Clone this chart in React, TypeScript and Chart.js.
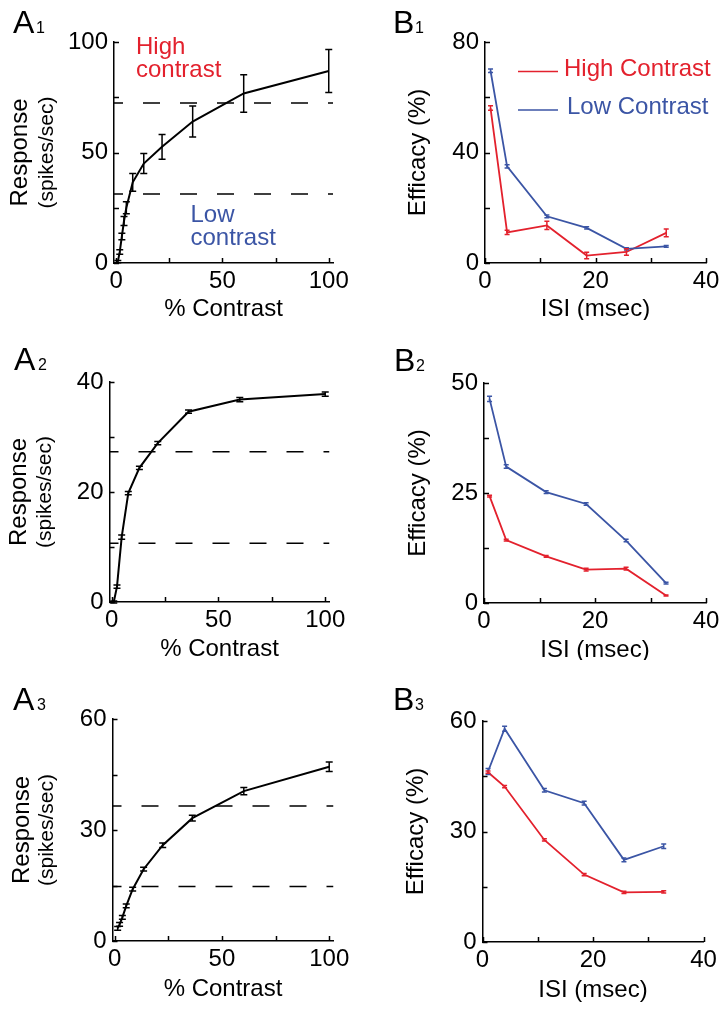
import React, { useEffect, useRef } from 'react';
import { Chart, registerables } from 'chart.js';

Chart.register(...registerables);

const FONT = '"Liberation Sans", Arial, Helvetica, sans-serif';
const RED = '#e3212d';
const BLUE = '#3b55a5';

// ---------- Panel A data (% contrast vs response) ----------
const A_X_TICKS = [0, 25, 50, 75, 100];
const A_X_LABELS = ['0', '', '50', '', '100'];

const A1_CONTRAST = [0.8, 1.7, 2.7, 3.7, 4.8, 7.8, 13, 21.6, 36, 60, 100];
const A1_RESPONSE = [0.6, 5, 12, 19, 25, 36.5, 45, 52.6, 64, 76.7, 86.9];
const A1_ERROR = [0.5, 1, 1.5, 2, 2.7, 4, 4.5, 5.6, 7, 8.5, 9.7];
const A1_LEVELS = [72.4, 31.2];
const A1_Y_TICKS = [0, 25, 50, 75, 100];
const A1_Y_LABELS = ['0', '', '50', '', '100'];

const A2_CONTRAST = [1, 2.5, 4.7, 7.8, 13, 21.6, 36, 60, 100];
const A2_RESPONSE = [0, 2.8, 11.8, 19.8, 24.4, 28.9, 34.6, 36.8, 37.8];
const A2_ERROR = [0.2, 0.3, 0.4, 0.3, 0.3, 0.3, 0.3, 0.4, 0.4];
const A2_LEVELS = [27.3, 10.7];
const A2_Y_TICKS = [0, 10, 20, 30, 40];
const A2_Y_LABELS = ['0', '', '20', '', '40'];

const A3_CONTRAST = [1.4, 2.3, 3.6, 5.4, 8.4, 13.5, 22.4, 36.2, 60.2, 100];
const A3_RESPONSE = [3.4, 4.5, 6.4, 9.5, 14, 19.4, 25.9, 33.2, 40.5, 47.1];
const A3_ERROR = [0.5, 0.5, 0.5, 0.5, 0.5, 0.5, 0.6, 0.8, 1, 1.3];
const A3_LEVELS = [36.5, 14.7];
const A3_Y_TICKS = [0, 15, 30, 45, 60];
const A3_Y_LABELS = ['0', '', '30', '', '60'];

// ---------- Panel B data (ISI vs efficacy) ----------
const ISI = [1, 4, 11.2, 18.4, 25.6, 32.8];
const B_X_TICKS = [0, 10, 20, 30, 40];
const B_X_LABELS = ['0', '', '20', '', '40'];

const B1_HIGH = [56.1, 11.1, 13.6, 2.7, 4.0, 10.9];
const B1_HIGH_ERR = [0.8, 0.8, 1.5, 1.2, 1.2, 1.4];
const B1_LOW = [69.6, 35, 16.9, 12.7, 5.1, 6.0];
const B1_LOW_ERR = [0.6, 0.6, 0.5, 0.4, 0.4, 0.3];
const B1_Y_TICKS = [0, 20, 40, 60, 80];
const B1_Y_LABELS = ['0', '', '40', '', '80'];

const B2_HIGH = [24.3, 14.3, 10.6, 7.6, 7.8, 1.7];
const B2_HIGH_ERR = [0.2, 0.2, 0.2, 0.3, 0.3, 0.1];
const B2_LOW = [46.4, 31.0, 25.2, 22.5, 14.2, 4.5];
const B2_LOW_ERR = [0.6, 0.4, 0.3, 0.3, 0.3, 0.2];
const B2_Y_TICKS = [0, 12.5, 25, 37.5, 50];
const B2_Y_LABELS = ['0', '', '25', '', '50'];

const B3_HIGH = [46.1, 42.2, 27.7, 18.3, 13.5, 13.6];
const B3_HIGH_ERR = [0.3, 0.3, 0.3, 0.3, 0.3, 0.3];
const B3_LOW = [46.3, 57.9, 41.2, 37.7, 22.3, 26.0];
const B3_LOW_ERR = [0.8, 0.7, 0.5, 0.5, 0.5, 0.6];
const B3_Y_TICKS = [0, 15, 30, 45, 60];
const B3_Y_LABELS = ['0', '', '30', '', '60'];

const LEGEND_LABELS = ['High Contrast', 'Low Contrast'];

// ---------- helpers ----------
const pts = (xs: number[], ys: number[]) => xs.map((x, i) => ({ x, y: ys[i] }));

const errorBarPlugin = {
  id: 'errorBars',
  afterDatasetsDraw(chart: any) {
    const ctx = chart.ctx;
    const yScale = chart.scales.y;
    chart.data.datasets.forEach((ds: any, di: number) => {
      if (!ds.errors) return;
      const meta = chart.getDatasetMeta(di);
      ctx.save();
      ctx.strokeStyle = ds.borderColor;
      ctx.lineWidth = 1.5;
      meta.data.forEach((el: any, i: number) => {
        const v = ds.data[i].y;
        const e = ds.errors[i];
        const x = el.x;
        const y1 = yScale.getPixelForValue(v + e);
        const y2 = yScale.getPixelForValue(v - e);
        const cw = ds.capWidth || 3;
        ctx.beginPath();
        ctx.moveTo(x, y1);
        ctx.lineTo(x, y2);
        ctx.moveTo(x - cw, y1);
        ctx.lineTo(x + cw, y1);
        ctx.moveTo(x - cw, y2);
        ctx.lineTo(x + cw, y2);
        ctx.stroke();
      });
      ctx.restore();
    });
  },
};

// inward tick marks, drawn from the scales' own ticks
const innerTickPlugin = {
  id: 'innerTicks',
  afterDraw(chart: any) {
    const ctx = chart.ctx;
    const area = chart.chartArea;
    const len = 5;
    ctx.save();
    ctx.strokeStyle = '#000';
    ctx.lineWidth = 1.5;
    ctx.beginPath();
    const xs = chart.scales.x;
    xs.ticks.forEach((t: any) => {
      const px = Math.round(xs.getPixelForValue(t.value)) + 0.5;
      ctx.moveTo(px, area.bottom);
      ctx.lineTo(px, area.bottom - len);
    });
    const ys = chart.scales.y;
    ys.ticks.forEach((t: any) => {
      const py = Math.round(ys.getPixelForValue(t.value)) + 0.5;
      ctx.moveTo(area.left, py);
      ctx.lineTo(area.left + len, py);
    });
    ctx.stroke();
    ctx.restore();
  },
};

const decoPlugin = {
  id: 'deco',
  afterDraw(chart: any, _args: any, opts: any) {
    const ctx = chart.ctx;
    const area = chart.chartArea;
    const cy = (area.top + area.bottom) / 2;
    const cx = (area.left + area.right) / 2;
    ctx.save();
    ctx.fillStyle = '#000';
    ctx.textBaseline = 'alphabetic';
    // panel label
    ctx.textAlign = 'left';
    ctx.font = `32px ${FONT}`;
    ctx.fillText(opts.letter, opts.labelX, opts.labelY);
    ctx.font = `16px ${FONT}`;
    ctx.fillText(opts.sub, opts.subX, opts.labelY);
    // y title (rotated)
    ctx.textAlign = 'center';
    (opts.yTitle || []).forEach((t: any) => {
      ctx.save();
      ctx.translate(t.x, cy);
      ctx.rotate(-Math.PI / 2);
      ctx.font = `${t.size}px ${FONT}`;
      ctx.fillText(t.text, 0, 0);
      ctx.restore();
    });
    // x title
    ctx.font = `24px ${FONT}`;
    ctx.fillText(opts.xTitle, cx, area.bottom + opts.xTitleDy);
    // annotations
    ctx.textAlign = 'left';
    (opts.notes || []).forEach((n: any) => {
      ctx.fillStyle = n.color;
      ctx.font = `24px ${FONT}`;
      ctx.fillText(n.text, n.x, n.y);
    });
    // legend
    (opts.legend || []).forEach((l: any) => {
      ctx.strokeStyle = l.color;
      ctx.lineWidth = 1.5;
      ctx.beginPath();
      ctx.moveTo(l.x1, l.ly);
      ctx.lineTo(l.x2, l.ly);
      ctx.stroke();
      ctx.fillStyle = l.color;
      ctx.font = `24px ${FONT}`;
      ctx.fillText(l.text, l.tx, l.ty);
    });
    ctx.restore();
  },
};

type Area = { l: number; r: number; t: number; b: number };

function makeAxis(
  axis: 'x' | 'y',
  min: number,
  max: number,
  tickVals: number[],
  tickLabels: string[],
  fit: (s: any) => void
) {
  return {
    type: 'linear',
    position: axis === 'x' ? 'bottom' : 'left',
    min,
    max,
    afterBuildTicks: (s: any) => {
      s.ticks = tickVals.map((v) => ({ value: v }));
    },
    afterFit: fit,
    ticks: {
      callback: (_v: any, i: number) => tickLabels[i],
      autoSkip: false,
      maxRotation: 0,
      minRotation: 0,
      padding: axis === 'x' ? 4 : 6,
      color: '#000',
      font: { size: 24, family: FONT },
    },
    grid: {
      display: true,
      drawOnChartArea: false,
      drawTicks: false,
    },
    border: { display: true, color: '#000', width: 1.5 },
  };
}

function makeConfig(p: any) {
  const W = p.w;
  const H = p.h;
  const a: Area = p.area;
  return {
    type: 'line',
    data: { datasets: p.datasets },
    options: {
      responsive: false,
      animation: false,
      devicePixelRatio: 1,
      layout: { padding: { top: a.t, right: W - a.r, left: 0, bottom: 0 } },
      elements: { point: { radius: 0 }, line: { tension: 0 } },
      plugins: {
        legend: { display: false },
        tooltip: { enabled: false },
        deco: p.deco,
      },
      scales: {
        x: makeAxis('x', p.xMin, p.xMax, p.xTicks, p.xLabels, (s: any) => {
          s.height = H - a.b;
        }),
        y: makeAxis('y', p.yMin, p.yMax, p.yTicks, p.yLabels, (s: any) => {
          s.width = a.l;
        }),
      },
    },
    plugins: [errorBarPlugin, innerTickPlugin, decoPlugin],
  };
}

function levelSets(levels: number[], xMin: number, xMax: number) {
  return levels.map((lv) => ({
    data: [
      { x: xMin, y: lv },
      { x: xMax, y: lv },
    ],
    borderColor: '#000',
    borderWidth: 1.5,
    borderDash: [17, 20],
    borderDashOffset: 8,
    pointRadius: 0,
  }));
}

function aPanel(
  contrast: number[],
  resp: number[],
  err: number[],
  levels: number[],
  yTicks: number[],
  yLabels: string[],
  h: number,
  area: Area,
  deco: any
) {
  return {
    w: 364,
    h,
    area,
    xMin: -1,
    xMax: 102,
    xTicks: A_X_TICKS,
    xLabels: A_X_LABELS,
    yMin: yTicks[0],
    yMax: yTicks[yTicks.length - 1],
    yTicks,
    yLabels,
    datasets: [
      ...levelSets(levels, -1, 102),
      {
        data: pts(contrast, resp),
        borderColor: '#000',
        borderWidth: 2,
        pointRadius: 0,
        errors: err,
        capWidth: 3.5,
      },
    ],
    deco,
  };
}

function bPanel(
  high: number[],
  highErr: number[],
  low: number[],
  lowErr: number[],
  yTicks: number[],
  yLabels: string[],
  h: number,
  area: Area,
  deco: any
) {
  return {
    w: 364,
    h,
    area,
    xMin: 0,
    xMax: 40,
    xTicks: B_X_TICKS,
    xLabels: B_X_LABELS,
    yMin: yTicks[0],
    yMax: yTicks[yTicks.length - 1],
    yTicks,
    yLabels,
    datasets: [
      {
        data: pts(ISI, low),
        borderColor: BLUE,
        borderWidth: 1.8,
        pointRadius: 0,
        errors: lowErr,
        capWidth: 2.5,
      },
      {
        data: pts(ISI, high),
        borderColor: RED,
        borderWidth: 1.8,
        pointRadius: 0,
        errors: highErr,
        capWidth: 2.5,
      },
    ],
    deco,
  };
}

const aTitles = (x1: number, x2: number) => [
  { text: 'Response', size: 24, x: x1 },
  { text: '(spikes/sec)', size: 21, x: x2 },
];
const bTitles = (x: number) => [{ text: 'Efficacy (%)', size: 24, x }];

const PANELS = [
  {
    left: 0,
    top: 0,
    cfg: aPanel(A1_CONTRAST, A1_RESPONSE, A1_ERROR, A1_LEVELS, A1_Y_TICKS, A1_Y_LABELS, 320,
      { l: 114, r: 333, t: 42, b: 263 },
      {
        letter: 'A', sub: '1', labelX: 13, subX: 36, labelY: 33,
        yTitle: aTitles(27, 52.5), xTitle: '% Contrast', xTitleDy: 53,
        notes: [
          { text: 'High', x: 136, y: 53.5, color: RED },
          { text: 'contrast', x: 136, y: 77, color: RED },
          { text: 'Low', x: 190.5, y: 222, color: BLUE },
          { text: 'contrast', x: 190.5, y: 245, color: BLUE },
        ],
      }),
  },
  {
    left: 364,
    top: 0,
    cfg: bPanel(B1_HIGH, B1_HIGH_ERR, B1_LOW, B1_LOW_ERR, B1_Y_TICKS, B1_Y_LABELS, 320,
      { l: 121, r: 342, t: 42, b: 263 },
      {
        letter: 'B', sub: '1', labelX: 29, subX: 51, labelY: 33,
        yTitle: bTitles(61), xTitle: 'ISI (msec)', xTitleDy: 53,
        legend: [
          { text: LEGEND_LABELS[0], color: RED, x1: 154, x2: 194, ly: 71.5, tx: 200, ty: 76 },
          { text: LEGEND_LABELS[1], color: BLUE, x1: 154, x2: 194, ly: 110, tx: 203, ty: 114 },
        ],
      }),
  },
  {
    left: 0,
    top: 320,
    cfg: aPanel(A2_CONTRAST, A2_RESPONSE, A2_ERROR, A2_LEVELS, A2_Y_TICKS, A2_Y_LABELS, 340,
      { l: 109.5, r: 329.5, t: 62, b: 282 },
      {
        letter: 'A', sub: '2', labelX: 14, subX: 38, labelY: 50,
        yTitle: aTitles(25.5, 50.5), xTitle: '% Contrast', xTitleDy: 54,
      }),
  },
  {
    left: 364,
    top: 320,
    cfg: bPanel(B2_HIGH, B2_HIGH_ERR, B2_LOW, B2_LOW_ERR, B2_Y_TICKS, B2_Y_LABELS, 340,
      { l: 120, r: 342, t: 63, b: 283 },
      {
        letter: 'B', sub: '2', labelX: 30, subX: 52, labelY: 50.5,
        yTitle: bTitles(61), xTitle: 'ISI (msec)', xTitleDy: 54,
      }),
  },
  {
    left: 0,
    top: 660,
    cfg: aPanel(A3_CONTRAST, A3_RESPONSE, A3_ERROR, A3_LEVELS, A3_Y_TICKS, A3_Y_LABELS, 354,
      { l: 112.5, r: 333.5, t: 59, b: 281 },
      {
        letter: 'A', sub: '3', labelX: 13, subX: 37, labelY: 50,
        yTitle: aTitles(29, 53), xTitle: '% Contrast', xTitleDy: 55,
      }),
  },
  {
    left: 364,
    top: 660,
    cfg: bPanel(B3_HIGH, B3_HIGH_ERR, B3_LOW, B3_LOW_ERR, B3_Y_TICKS, B3_Y_LABELS, 354,
      { l: 118.5, r: 339.5, t: 61, b: 282 },
      {
        letter: 'B', sub: '3', labelX: 29, subX: 51, labelY: 50,
        yTitle: bTitles(59), xTitle: 'ISI (msec)', xTitleDy: 55,
      }),
  },
];

function Panel({ cfg, left, top }: any) {
  const ref = useRef<HTMLCanvasElement | null>(null);
  useEffect(() => {
    if (!ref.current) return;
    const chart = new Chart(ref.current, makeConfig(cfg) as any);
    return () => chart.destroy();
  }, [cfg]);
  return (
    <canvas
      ref={ref}
      width={cfg.w}
      height={cfg.h}
      style={{ position: 'absolute', left, top, width: cfg.w, height: cfg.h }}
    />
  );
}

export default function App() {
  return (
    <div
      style={{
        position: 'fixed',
        left: 0,
        top: 0,
        width: 728,
        height: 1014,
        background: '#fff',
        overflow: 'hidden',
      }}
    >
      {PANELS.map((p, i) => (
        <Panel key={i} cfg={p.cfg} left={p.left} top={p.top} />
      ))}
    </div>
  );
}
